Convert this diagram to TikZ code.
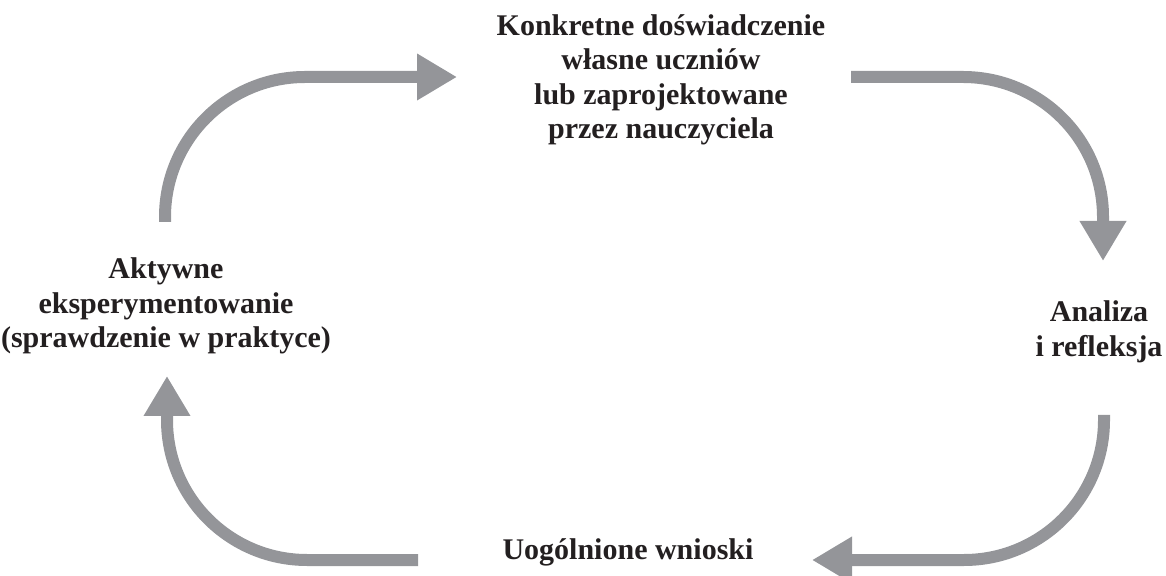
\documentclass[tikz,border=0pt]{standalone}
\usepackage{fontspec}
\setmainfont{Liberation Serif}
\usetikzlibrary{arrows.meta}
\definecolor{arrowgrey}{RGB}{148,149,153}
\definecolor{textdark}{RGB}{35,31,32}
\tikzset{
  label text/.style={font=\bfseries\fontsize{15}{17.25}\selectfont, align=center, inner sep=0pt, text=textdark},
  cycle arrow/.style={draw=arrowgrey, line width=6pt, rounded corners=70pt,
    -{Triangle[length=20pt,width=22pt]}}
}
\begin{document}
\begin{tikzpicture}[x=0.5pt,y=-0.5pt]
\useasboundingbox (0,0) rectangle (1166,576);
\clip (0,0) rectangle (1166,576);
% text nodes
\node[label text] (top) at (661,80) {Konkretne doświadczenie\\własne uczniów\\lub zaprojektowane\\przez nauczyciela};
\node[label text] (right) at (1099,332) {Analiza\\i refleksja};
\node[label text] (bottom) at (628,552) {Uogólnione wnioski};
\node[label text] (left) at (166,306) {Aktywne\\eksperymentowanie\\(sprawdzenie w praktyce)};
% arrow end points
\coordinate (a1s) at (165,222);
\coordinate (a1e) at (457,77);
\coordinate (a2s) at (851,77);
\coordinate (a2e) at (1103,261);
\coordinate (a3s) at (1104,415);
\coordinate (a3e) at (812,560);
\coordinate (a4s) at (418,560);
\coordinate (a4e) at (167,376);
% arrows
\draw[cycle arrow] (a1s) |- (a1e);
\draw[cycle arrow] (a2s) -| (a2e);
\draw[cycle arrow] (a3s) |- (a3e);
\draw[cycle arrow] (a4s) -| (a4e);
\end{tikzpicture}
\end{document}
